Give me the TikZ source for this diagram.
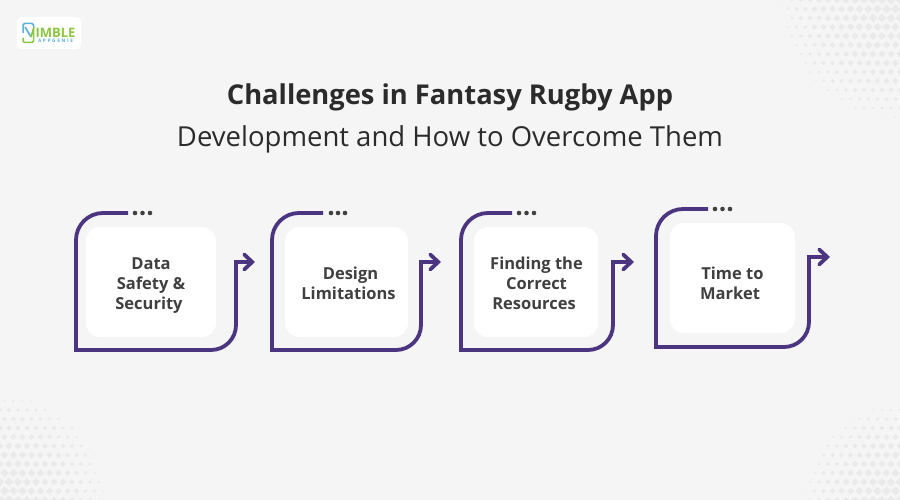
\documentclass[tikz,border=0pt]{standalone}
\usepackage{fontspec}
\setmainfont{Open Sans}
\usetikzlibrary{arrows.meta}
\definecolor{pagebg}{HTML}{F5F5F5}
\definecolor{tilegray}{HTML}{EAEAEA}
\definecolor{flowpurple}{HTML}{4B3480}
\definecolor{labelgray}{HTML}{404040}
\definecolor{titlegray}{HTML}{2B2B2B}
\definecolor{logogreen}{HTML}{8CC63F}
\definecolor{logoblue}{HTML}{5CB0DC}
\tikzset{
    card/.style={fill=white, rounded corners=14pt, inner sep=0pt},
    cardtext/.style={text=labelgray, font=\fontsize{16.5}{20}\selectfont\bfseries, align=center, inner sep=0pt},
    flow/.style={draw=flowpurple, line width=3.8pt, -{Straight Barb[length=8pt,width=15pt,line cap=round]}},
    menudot/.style={circle, fill=labelgray, inner sep=0pt, minimum size=4.6pt},
}
% faint halftone patch in a corner of the page
\newcommand{\halftone}[3]{
    \foreach \i in {-13,...,13} {
        \foreach \j in {-13,...,13} {
            \pgfmathsetmacro{\tx}{#1+9*\i+4.5*mod(abs(\j),2)}
            \pgfmathsetmacro{\ty}{#2+9*\j}
            \pgfmathsetmacro{\dd}{veclen(\tx-#1,\ty-#2)/#3}
            \ifdim\dd pt<1pt
                \pgfmathsetmacro{\ss}{4.3*sqrt(1-\dd)+0.4}
                \fill[tilegray] (\tx-\ss,\ty) -- (\tx,\ty-\ss) -- (\tx+\ss,\ty) -- (\tx,\ty+\ss) -- cycle;
            \fi
        }
    }
}
\begin{document}
\begin{tikzpicture}[x=1pt,y=-1pt]
    \useasboundingbox (0,0) rectangle (900,500);
    \fill[pagebg] (0,0) rectangle (900,500);
    \begin{scope}
        \clip (0,0) rectangle (900,500);
        \halftone{900}{0}{118}
        \halftone{0}{500}{105}
        \halftone{900}{500}{95}
    \end{scope}

    % logo
    \fill[white, rounded corners=4pt] (17,17) rectangle (81,49);
    \draw[logoblue, line width=1.5pt, rounded corners=1.5pt] (23,33) -- (23,23.5) -- (33.5,23.5) -- (33.5,27);
    \draw[logogreen, line width=1.5pt, rounded corners=1.5pt] (23,38) -- (23,42.5) -- (33.5,42.5) -- (33.5,30);
    \draw[logoblue, line width=1.7pt] (25,27) -- (31,37);
    \draw[logogreen, line width=1.7pt] (31,37) -- (34,27);
    \node[text=logogreen, inner sep=0pt, font=\fontsize{13}{13}\selectfont\bfseries] (logoname) at (55.5,32.5) {IMBLE};
    \node[text=logoblue, inner sep=0pt, font=\fontsize{4.8}{5}\selectfont\bfseries] (logosub) at (55.5,40.7) {A\,\,P\,\,P\,\,G\,\,E\,\,N\,\,I\,\,E};

    % title
    \node[text=titlegray, inner sep=0pt, font=\fontsize{27.3}{32}\selectfont\bfseries] (title) at (450,97) {Challenges in Fantasy Rugby App};
    \node[text=titlegray, inner sep=0pt, font=\fontsize{27.5}{32}\selectfont] (subtitle) at (450,139) {Development and How to Overcome Them};

    % cards
    \node[card, minimum width=130pt, minimum height=110pt] (data) at (151,282) {};
    \node[cardtext] (datatext) at (151,286) {Data\\Safety \&\\Security\hspace*{4pt}};
    \node[card, minimum width=123pt, minimum height=110pt] (design) at (346.5,282) {};
    \node[cardtext] (designtext) at (348.5,283) {\hspace*{4pt}Design\\Limitations};
    \node[card, minimum width=124pt, minimum height=110pt] (finding) at (536,282) {};
    \node[cardtext] (findingtext) at (536.5,283) {Finding the\\Correct\\Resources\hspace*{5pt}};
    \node[card, minimum width=125pt, minimum height=110pt] (time) at (732.5,278) {};
    \node[cardtext] (timetext) at (731,283) {\hspace*{3pt}Time to\\Market\hspace*{2pt}};

    % connector ends
    \coordinate (a1) at (128,213);
    \coordinate (a2) at (76,213);
    \coordinate (a3) at (76,350);
    \coordinate (a4) at (236,350);
    \coordinate (a5) at (236,262);
    \coordinate (a6) at (255,262);
    \coordinate (b1) at (323,213);
    \coordinate (b2) at (272,213);
    \coordinate (b3) at (272,350);
    \coordinate (b4) at (421,350);
    \coordinate (b5) at (421,262);
    \coordinate (b6) at (441,262);
    \coordinate (c1) at (512,213);
    \coordinate (c2) at (461,213);
    \coordinate (c3) at (461,350);
    \coordinate (c4) at (613,350);
    \coordinate (c5) at (613,262);
    \coordinate (c6) at (634,262);
    \coordinate (d1) at (708,209);
    \coordinate (d2) at (656,209);
    \coordinate (d3) at (656,347);
    \coordinate (d4) at (809,347);
    \coordinate (d5) at (809,257);
    \coordinate (d6) at (830,257);

    \draw[flow] (a1) [rounded corners=27pt] -- (a2) [sharp corners] -- (a3) [rounded corners=25pt] -- (a4) [sharp corners] -- (a5) -- (a6);
    \draw[flow] (b1) [rounded corners=27pt] -- (b2) [sharp corners] -- (b3) [rounded corners=25pt] -- (b4) [sharp corners] -- (b5) -- (b6);
    \draw[flow] (c1) [rounded corners=27pt] -- (c2) [sharp corners] -- (c3) [rounded corners=25pt] -- (c4) [sharp corners] -- (c5) -- (c6);
    \draw[flow] (d1) [rounded corners=27pt] -- (d2) [sharp corners] -- (d3) [rounded corners=25pt] -- (d4) [sharp corners] -- (d5) -- (d6);

    % three dots over each card
    \node[menudot] (a7) at (135,213) {};
    \node[menudot] (a8) at (142.5,213) {};
    \node[menudot] (a9) at (150,213) {};
    \node[menudot] (b7) at (331,213) {};
    \node[menudot] (b8) at (338,213) {};
    \node[menudot] (b9) at (345,213) {};
    \node[menudot] (c7) at (519,213) {};
    \node[menudot] (c8) at (526.5,213) {};
    \node[menudot] (c9) at (534,213) {};
    \node[menudot] (d7) at (715,209) {};
    \node[menudot] (d8) at (722.5,209) {};
    \node[menudot] (d9) at (730,209) {};
\end{tikzpicture}
\end{document}
